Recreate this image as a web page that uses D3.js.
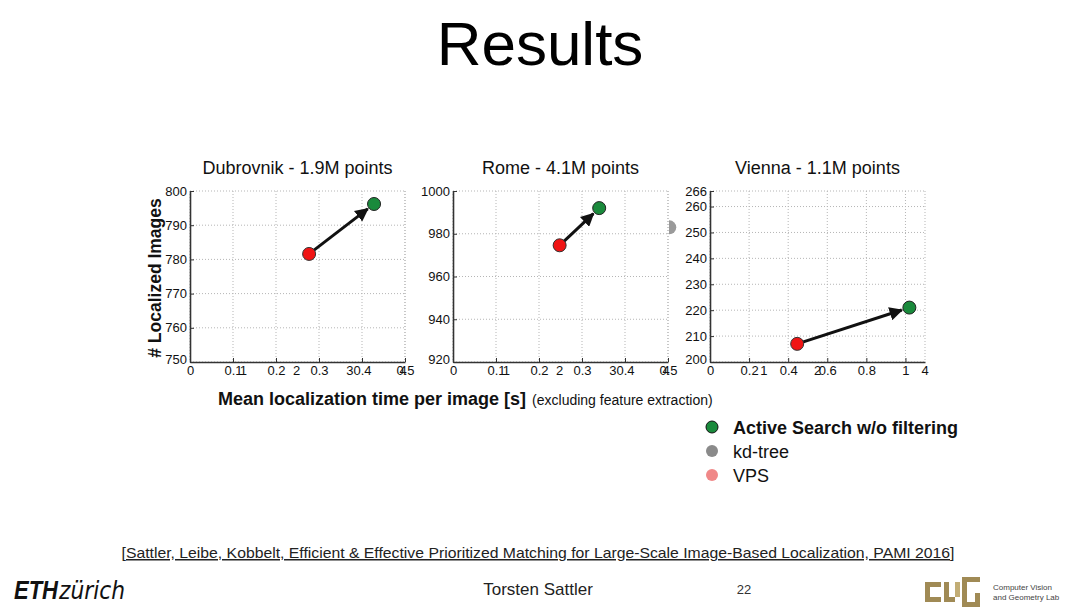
<!DOCTYPE html>
<html>
<head>
<meta charset="utf-8">
<script src="https://cdn.jsdelivr.net/npm/d3@7"></script>
<style>
  body { margin: 0; background: #fff; }
  svg { font-family: "Liberation Sans", Arial, sans-serif; }
  .grid line { stroke: #b5b5b5; stroke-dasharray: 1,2; }
  .tick text { fill: #111; }
</style>
</head>
<body>
<div id="chart"></div>
<script>
// panel data
var panelTitles = ["Dubrovnik - 1.9M points", "Rome - 4.1M points", "Vienna - 1.1M points"];
var xMax = [0.5, 0.5, 1.1];
var yDomains = [[750, 800], [920, 1000], [200, 266]];
var xTickValues = [[0, 0.1, 0.2, 0.3, 0.4, 0.5], [0, 0.1, 0.2, 0.3, 0.4, 0.5], [0, 0.2, 0.4, 0.6, 0.8, 1]];
var yTickValues = [[750, 760, 770, 780, 790, 800], [920, 940, 960, 980, 1000], [200, 210, 220, 230, 240, 250, 260, 266]];
// leftover labels from an old axis that overlap the real ones
var ghostTicks = [[1, 2, 3, 4], [1, 2, 3, 4], [1, 2, 4]];

// VPS (red) -> Active Search (green)
var vpsTime = [0.277, 0.248, 0.446];
var vpsImages = [781.6, 974.6, 207];
var asTime = [0.428, 0.340, 1.02];
var asImages = [796.2, 992.0, 221];
var kdTime = [null, 0.503, null];
var kdImages = [null, 983, null];

var legendLabels = ["Active Search w/o filtering", "kd-tree", "VPS"];
var legendColors = ["#1a8a3c", "#8a8a8a", "#f08888"];

var width = 1080, height = 607;
var plotLeft = [190, 453, 710];
var plotW = 215, plotTop = 191, plotH = 171;

var svg = d3.select("#chart").append("svg")
  .attr("width", width)
  .attr("height", height);

var defs = svg.append("defs");
defs.append("marker")
  .attr("id", "arrow")
  .attr("viewBox", "0 0 10 10")
  .attr("refX", 9).attr("refY", 5)
  .attr("markerWidth", 4.5).attr("markerHeight", 4.5)
  .attr("orient", "auto")
  .attr("markerUnits", "strokeWidth")
  .append("path")
  .attr("d", "M0,0 L10,5 L0,10 z")
  .attr("fill", "#111");

// slide title
svg.append("text")
  .attr("x", 540).attr("y", 65)
  .attr("text-anchor", "middle")
  .attr("font-size", 62)
  .attr("fill", "#000")
  .text("Results");

panelTitles.forEach(function(title, i) {
  var x = d3.scaleLinear().domain([0, xMax[i]]).range([0, plotW]);
  var y = d3.scaleLinear().domain(yDomains[i]).range([plotH, 0]);
  var xGhost = d3.scaleLinear().domain([0, 4]).range([0, i == 2 ? plotW : plotW - 2]);

  var g = svg.append("g")
    .attr("transform", "translate(" + plotLeft[i] + "," + plotTop + ")");

  g.append("text")
    .attr("x", plotW / 2).attr("y", -17)
    .attr("text-anchor", "middle")
    .attr("font-size", 18)
    .attr("fill", "#111")
    .text(title);

  // grid
  var grid = g.append("g").attr("class", "grid");
  grid.selectAll(".gx").data(xTickValues[i].concat([xMax[i]]))
    .enter().append("line")
    .attr("x1", function(d) { return x(d); }).attr("x2", function(d) { return x(d); })
    .attr("y1", 0).attr("y2", plotH);
  grid.selectAll(".gy").data(yTickValues[i])
    .enter().append("line")
    .attr("x1", 0).attr("x2", plotW)
    .attr("y1", function(d) { return y(d); }).attr("y2", function(d) { return y(d); });

  // axes
  var axisX = d3.axisBottom(x).tickValues(xTickValues[i]).tickSizeInner(-4).tickSizeOuter(0)
    .tickPadding(4).tickFormat(d3.format("~g"));
  var gx = g.append("g").attr("transform", "translate(0," + plotH + ")").call(axisX);
  var axisY = d3.axisLeft(y).tickValues(yTickValues[i]).tickSizeInner(-4).tickSizeOuter(0)
    .tickPadding(3).tickFormat(d3.format("d"));
  var gy = g.append("g").call(axisY);
  [gx, gy].forEach(function(a) {
    a.selectAll("text").attr("font-size", 13).attr("font-family", "Liberation Sans, Arial, sans-serif");
    a.select(".domain").attr("stroke", "#333").attr("stroke-width", 1.6);
    a.selectAll(".tick line").attr("stroke", "#333");
  });
  gy.selectAll(".tick text").attr("dy", function(d) { return d == yDomains[i][0] ? "0.1em" : "0.32em"; });

  g.selectAll(".ghost").data(ghostTicks[i])
    .enter().append("text")
    .attr("x", function(d) { return xGhost(d); })
    .attr("y", plotH + 13)
    .attr("text-anchor", "middle")
    .attr("font-size", 13)
    .attr("fill", "#111")
    .text(function(d) { return d; });

  // kd-tree point, only its outer half shows
  if (kdTime[i] != null) {
    var clipId = "clip" + i;
    defs.append("clipPath").attr("id", clipId)
      .append("rect").attr("x", plotLeft[i] + plotW + 1).attr("y", 0).attr("width", 40).attr("height", height);
    svg.append("g").attr("clip-path", "url(#" + clipId + ")")
      .append("circle")
      .attr("cx", plotLeft[i] + x(kdTime[i]))
      .attr("cy", plotTop + y(kdImages[i]))
      .attr("r", 7)
      .attr("fill", "#9a9a9a");
  }

  // arrow from VPS to Active Search
  var x1 = x(vpsTime[i]), y1 = y(vpsImages[i]);
  var x2 = x(asTime[i]), y2 = y(asImages[i]);
  var len = Math.sqrt((x2 - x1) * (x2 - x1) + (y2 - y1) * (y2 - y1));
  var shrink = 8;
  g.append("line")
    .attr("x1", x1).attr("y1", y1)
    .attr("x2", x2 - (x2 - x1) / len * shrink)
    .attr("y2", y2 - (y2 - y1) / len * shrink)
    .attr("stroke", "#111")
    .attr("stroke-width", 3)
    .attr("marker-end", "url(#arrow)");

  g.append("circle")
    .attr("cx", x1).attr("cy", y1).attr("r", 6.5)
    .attr("fill", "#f01414").attr("stroke", "#333").attr("stroke-width", 1);
  g.append("circle")
    .attr("cx", x2).attr("cy", y2).attr("r", 6.5)
    .attr("fill", "#1a8a3c").attr("stroke", "#222").attr("stroke-width", 1);
});

// axis titles
svg.append("text")
  .attr("transform", "translate(161,278) rotate(-90)")
  .attr("text-anchor", "middle")
  .attr("font-size", 17.5)
  .attr("font-weight", "bold")
  .attr("fill", "#111")
  .text("# Localized Images");

var xl = svg.append("text")
  .attr("x", 218).attr("y", 405)
  .attr("fill", "#111");
xl.append("tspan").attr("font-size", 18).attr("font-weight", "bold")
  .text("Mean localization time per image [s]");
xl.append("tspan").attr("font-size", 14).attr("dx", 6)
  .text("(excluding feature extraction)");

// legend
var legend = svg.append("g").attr("transform", "translate(712,427)");
legendLabels.forEach(function(label, i) {
  legend.append("circle")
    .attr("cx", 0).attr("cy", i * 24).attr("r", 6)
    .attr("fill", legendColors[i])
    .attr("stroke", i == 0 ? "#111" : "none");
  legend.append("text")
    .attr("x", 21).attr("y", i * 24 + 6.5)
    .attr("font-size", 18)
    .attr("font-weight", i == 0 ? "bold" : "normal")
    .attr("fill", "#111")
    .text(label);
});

// citation and footer
svg.append("text")
  .attr("x", 538).attr("y", 558)
  .attr("text-anchor", "middle")
  .attr("font-size", 15)
  .attr("font-family", "Liberation Sans Narrow, Arial Narrow, sans-serif")
  .attr("textLength", 833)
  .attr("lengthAdjust", "spacingAndGlyphs")
  .attr("text-decoration", "underline")
  .attr("fill", "#222")
  .text("[Sattler, Leibe, Kobbelt, Efficient & Effective Prioritized Matching for Large-Scale Image-Based Localization, PAMI 2016]");

svg.append("text")
  .attr("x", 538).attr("y", 595)
  .attr("text-anchor", "middle")
  .attr("font-size", 17)
  .attr("font-family", "Liberation Sans Narrow, Arial Narrow, sans-serif")
  .attr("fill", "#222")
  .text("Torsten Sattler");

svg.append("text")
  .attr("x", 744).attr("y", 594)
  .attr("text-anchor", "middle")
  .attr("font-size", 13)
  .attr("font-family", "Liberation Sans Narrow, Arial Narrow, sans-serif")
  .attr("fill", "#333")
  .text("22");

// ETH logo
var eth = svg.append("text").attr("x", 14).attr("y", 599).attr("fill", "#111");
eth.append("tspan").attr("font-size", 25).attr("font-weight", "bold").attr("font-style", "italic")
  .attr("textLength", 44).attr("lengthAdjust", "spacingAndGlyphs").text("ETH");
eth.append("tspan").attr("font-size", 25).attr("font-style", "italic").attr("dx", 1)
  .attr("font-family", "DejaVu Sans, sans-serif").attr("font-weight", 200)
  .attr("textLength", 66).attr("lengthAdjust", "spacingAndGlyphs").text("zürich");

// CVG logo
var cvg = svg.append("g").attr("transform", "translate(925,577)").attr("fill", "#a08a55");
cvg.append("path").attr("d", "M0,5 h16 v5 h-11 v10 h11 v5 h-16 z");
cvg.append("path").attr("d", "M19,5 h5 v15 h6 v5 h-11 z");
cvg.append("path").attr("d", "M30,5 h5 v15 h-5 z").attr("fill", "#c2ad75");
cvg.append("path").attr("d", "M37,0 h18 v5 h-13 v20 h8 v-9 h5 v14 h-18 z");
svg.append("text").attr("x", 993).attr("y", 590).attr("font-size", 8).attr("fill", "#444")
  .text("Computer Vision");
svg.append("text").attr("x", 993).attr("y", 600).attr("font-size", 8).attr("fill", "#444")
  .text("and Geometry Lab");
</script>
</body>
</html>
